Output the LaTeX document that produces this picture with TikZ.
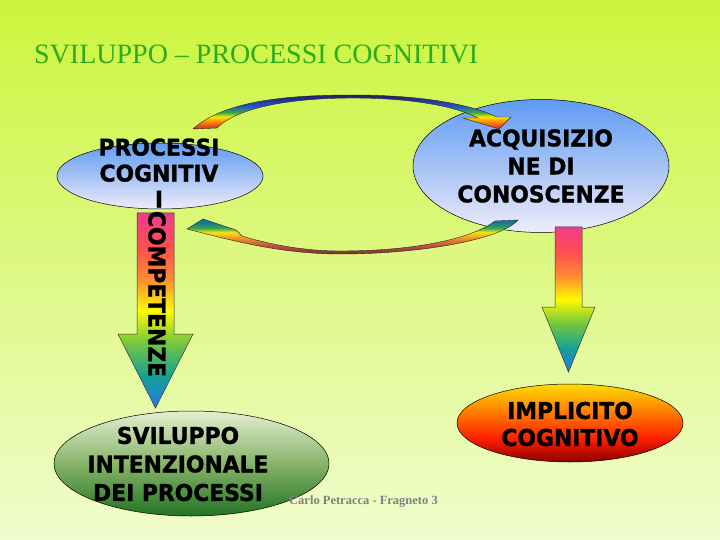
\documentclass[tikz,border=0pt]{standalone}
\usepackage{fontspec}
\setmainfont{Liberation Serif}
\newfontfamily\bodyfont[FakeStretch=0.95,FakeBold=1.2]{DejaVu Sans}
\usetikzlibrary{shapes.geometric,calc}

\definecolor{bgtop}{RGB}{204,245,60}
\definecolor{bgmid}{RGB}{222,249,140}
\definecolor{bgbot}{RGB}{240,252,205}
\definecolor{titlegreen}{RGB}{45,170,30}
\definecolor{footgray}{RGB}{128,128,128}
% rainbow of the block arrows
\definecolor{rbBlue}{RGB}{40,120,230}
\definecolor{rbTeal}{RGB}{20,160,150}
\definecolor{rbGreen}{RGB}{120,200,60}
\definecolor{rbYellow}{RGB}{255,250,0}
\definecolor{rbOrange}{RGB}{255,140,50}
\definecolor{rbRed}{RGB}{255,80,80}
\definecolor{rbPink}{RGB}{240,60,140}
% top arc
\definecolor{taRed}{RGB}{200,40,50}
\definecolor{taOrange}{RGB}{255,140,0}
\definecolor{taYellow}{RGB}{250,230,0}
\definecolor{taGreen}{RGB}{60,170,70}
\definecolor{taBlue}{RGB}{40,80,200}
\definecolor{taNavy}{RGB}{30,30,100}
% bottom arc
\definecolor{baTeal}{RGB}{20,120,150}
\definecolor{baGreen}{RGB}{60,165,80}
\definecolor{baYellow}{RGB}{245,230,20}
\definecolor{baOrange}{RGB}{240,140,40}
\definecolor{baBrown}{RGB}{190,80,70}
\definecolor{baDark}{RGB}{120,50,40}
% ellipses
\definecolor{blTop}{RGB}{95,155,245}
\definecolor{blMid}{RGB}{165,195,245}
\definecolor{blBot}{RGB}{240,235,250}
\definecolor{orTop}{RGB}{255,220,0}
\definecolor{orMid}{RGB}{255,130,0}
\definecolor{orRed}{RGB}{255,30,0}
\definecolor{orBot}{RGB}{140,0,0}
\definecolor{grTop}{RGB}{228,238,208}
\definecolor{grMid}{RGB}{135,180,105}
\definecolor{grBot}{RGB}{35,115,35}

\pgfdeclareverticalshading{rainbowv}{100bp}{color(0bp)=(rbBlue); color(25bp)=(rbBlue); color(33bp)=(rbTeal); color(42bp)=(rbGreen); color(50bp)=(rbYellow); color(58bp)=(rbOrange); color(66bp)=(rbRed); color(75bp)=(rbPink); color(100bp)=(rbPink)}
\pgfdeclareverticalshading{toparc}{100bp}{color(0bp)=(taRed); color(25bp)=(taRed); color(36bp)=(taOrange); color(43bp)=(taYellow); color(49bp)=(taGreen); color(59bp)=(taBlue); color(75bp)=(taNavy); color(100bp)=(taNavy)}
\pgfdeclareverticalshading{botarc}{100bp}{color(0bp)=(baDark); color(25bp)=(baDark); color(37bp)=(baBrown); color(47bp)=(baOrange); color(56bp)=(baYellow); color(62bp)=(baGreen); color(70bp)=(baTeal); color(100bp)=(baTeal)}
\pgfdeclareverticalshading{blueell}{100bp}{color(0bp)=(blBot); color(25bp)=(blBot); color(50bp)=(blMid); color(75bp)=(blTop); color(100bp)=(blTop)}
\pgfdeclareverticalshading{orangeell}{100bp}{color(0bp)=(orBot); color(25bp)=(orBot); color(40bp)=(orRed); color(58bp)=(orMid); color(75bp)=(orTop); color(100bp)=(orTop)}
\pgfdeclareverticalshading{greenell}{100bp}{color(0bp)=(grBot); color(25bp)=(grBot); color(50bp)=(grMid); color(75bp)=(grTop); color(100bp)=(grTop)}

\newcommand{\myblockarrow}[5]{%
  \path[shade, shading=rainbowv, draw=black!80, line width=0.5pt]
    ($(#1)+(-#3,0)$) -- ($(#1)+(#3,0)$) -- ($(#2)+(#3,-#5)$) -- ($(#2)+(#4,-#5)$)
    -- (#2) -- ($(#2)+(-#4,-#5)$) -- ($(#2)+(-#3,-#5)$) -- cycle;}

\tikzset{
  ell/.style={ellipse, draw=black, line width=0.5pt, inner sep=0pt, shade},
  bodytext/.style={align=center, text=black, inner sep=0pt},
  arcstyle/.style={shade, draw=black!85, line width=0.4pt},
}

\begin{document}
\begin{tikzpicture}[x=1pt,y=-1pt]
\useasboundingbox (0,0) rectangle (720,540);
\shade[top color=bgtop, middle color=bgmid, bottom color=bgbot] (0,0) rectangle (720,540);

% title
\node[anchor=west, inner sep=0pt, text=titlegreen, font=\fontsize{28}{32}\selectfont] (title) at (34,54) {SVILUPPO -- PROCESSI COGNITIVI};

% ellipses
\node[ell, shading=blueell, minimum width=206pt, minimum height=66pt] (e1) at (160,176) {};
\node[ell, shading=blueell, minimum width=256pt, minimum height=133pt] (e2) at (541,166) {};
\node[ell, shading=orangeell, minimum width=226pt, minimum height=78pt] (e3) at (570,423) {};
\node[ell, shading=greenell, minimum width=275pt, minimum height=105pt] (e4) at (191.5,463.5) {};

% block arrows
\coordinate (a1top) at (155.5,213);
\coordinate (a1tip) at (155.5,408);
\myblockarrow{a1top}{a1tip}{18.5}{37.5}{74}
\coordinate (a2top) at (568.5,227);
\coordinate (a2tip) at (568.5,372);
\myblockarrow{a2top}{a2tip}{13.5}{26.5}{65}

% curved arrows
\path[arcstyle, shading=toparc]
  (193,129) .. controls (225,100) and (290,95) .. (353,95)
  .. controls (420,95) and (470,104) .. (497,117)
  -- (511,117) -- (499,129) -- (463,118) -- (478,118)
  .. controls (455,106) and (410,98) .. (353,98)
  .. controls (300,98) and (240,105) .. (217,128) -- cycle;
\path[arcstyle, shading=botarc]
  (495,221) .. controls (470,240) and (410,251) .. (340,251)
  .. controls (300,251) and (265,243) .. (242,236)
  -- (236,230) -- (203,219) -- (187,229)
  .. controls (230,240) and (280,254) .. (340,254)
  .. controls (420,254) and (500,240) .. (518,220) -- cycle;

% texts
\node[bodytext, font=\bodyfont\bfseries\fontsize{23}{26}\selectfont] (t1) at (159,173) {PROCESSI\\COGNITIV\\I};
\node[bodytext, font=\bodyfont\bfseries\fontsize{23}{28}\selectfont] (t2) at (541,166) {ACQUISIZIO\\NE DI\\CONOSCENZE};
\node[bodytext, font=\bodyfont\bfseries\fontsize{23}{27}\selectfont] (t3) at (570,424) {IMPLICITO\\COGNITIVO};
\node[bodytext, font=\bodyfont\bfseries\fontsize{23}{28.5}\selectfont] (t4) at (178,464) {SVILUPPO\\INTENZIONALE\\DEI PROCESSI};
\node[bodytext, rotate=-90, font=\bodyfont\bfseries\fontsize{23}{26}\selectfont] (t5) at (157,294) {COMPETENZE};

% footer
\node[anchor=west, inner sep=0pt, text=footgray, font=\bfseries\fontsize{12.5}{14}\selectfont] (foot) at (289,502) {Carlo Petracca - Fragneto 3};
\end{tikzpicture}
\end{document}
